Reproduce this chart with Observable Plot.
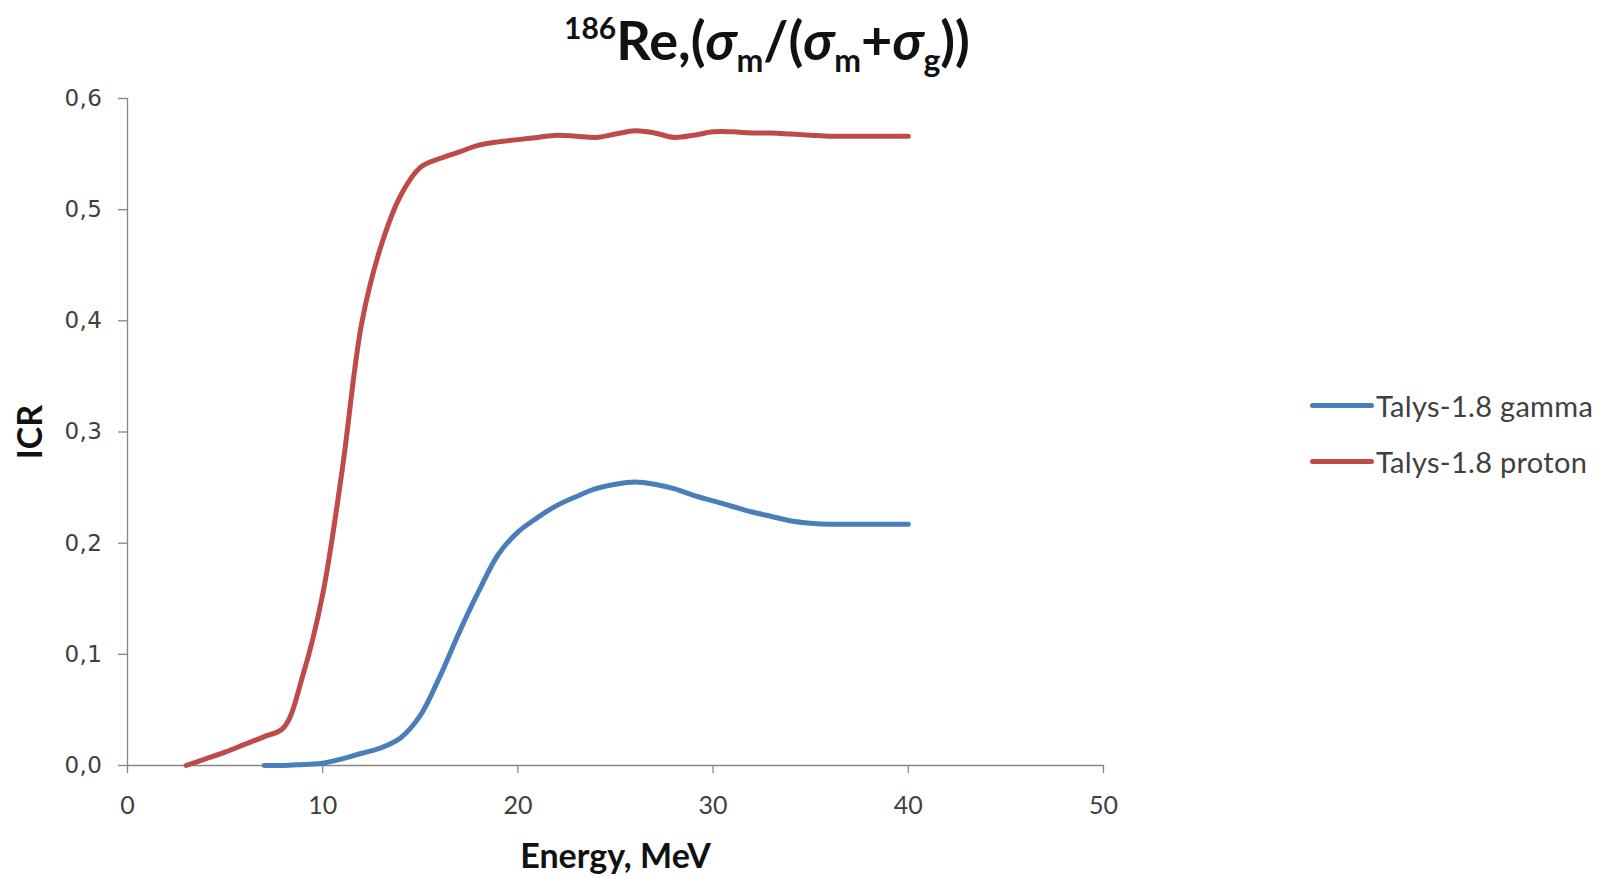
<!DOCTYPE html>
<html>
<head>
<meta charset="utf-8">
<script src="https://cdn.jsdelivr.net/npm/d3@7"></script>
<script src="https://cdn.jsdelivr.net/npm/@observablehq/plot@0.6"></script>
<style>
  html, body { margin: 0; padding: 0; background: #fff; }
  #wrap { position: relative; width: 1614px; height: 879px; overflow: hidden; }
  #title {
    position: absolute; left: 0; top: 0; width: 1534px; height: 78px;
    display: flex; align-items: center; justify-content: center;
    font-family: Lato, "Open Sans", sans-serif; font-weight: bold; font-size: 54px; color: #111;
  }
  #title sup { font-size: 30px; vertical-align: 21px; line-height: 0; }
  #title sub { font-size: 32px; vertical-align: -12px; line-height: 0; }
  #title i { font-style: italic; }
  #chart { position: absolute; left: 0; top: 80px; }
  #legend { position: absolute; left: 1310px; top: 388px; font-family: Lato, "Open Sans", sans-serif; font-size: 29px; letter-spacing: 0.3px; color: #404040; }
  .item { display: flex; align-items: center; height: 34px; margin-bottom: 22px; white-space: nowrap; }
  .swatch { width: 64px; height: 5px; border-radius: 3px; margin-right: 2px; }
  g[aria-label="y-axis label"] text, g[aria-label="x-axis label"] text {
    font-family: Lato, "Open Sans", sans-serif; font-weight: bold; font-size: 34px; fill: #111;
  }
  g[aria-label="y-axis tick label"] text { font-family: "DejaVu Sans", sans-serif; font-size: 23px; fill: #404040; letter-spacing: 0.5px; }
  g[aria-label="x-axis tick label"] text { font-family: Lato, "Open Sans", sans-serif; font-size: 25px; fill: #404040; }
  g[aria-label="y-axis tick"] path, g[aria-label="x-axis tick"] path { stroke: #868686; stroke-width: 1.3; }
</style>
</head>
<body>
<div id="wrap">
  <div id="title"><span><sup>186</sup>Re,(<i>σ</i><sub>m</sub>/(<i>σ</i><sub>m</sub>+<i>σ</i><sub>g</sub>))</span></div>
  <div id="chart"></div>
  <div id="legend"></div>
</div>
<script>
// Series names and colours
const seriesNames = ["Talys-1.8 gamma", "Talys-1.8 proton"];
const seriesColors = ["#4A7EBB", "#BE4B48"];

// Tick values
const xTicks = [0, 10, 20, 30, 40, 50];
const yTicks = [0, 0.1, 0.2, 0.3, 0.4, 0.5, 0.6];

// Talys-1.8 gamma
const gammaEnergy = [7, 8, 9, 10, 11, 12, 13, 14, 15, 16, 17, 18, 19, 20, 21, 22, 23, 24, 25, 26, 27, 28, 29, 30, 31, 32, 33, 34, 35, 36, 37, 38, 39, 40];
const gammaICR = [0.0, 0.0, 0.001, 0.002, 0.006, 0.011, 0.016, 0.025, 0.045, 0.080, 0.120, 0.157, 0.190, 0.210, 0.223, 0.234, 0.242, 0.249, 0.253, 0.255, 0.253, 0.249, 0.243, 0.238, 0.233, 0.228, 0.224, 0.220, 0.218, 0.217, 0.217, 0.217, 0.217, 0.217];

// Talys-1.8 proton
const protonEnergy = [3, 4, 5, 6, 7, 8, 9, 10, 11, 12, 13, 14, 15, 16, 17, 18, 19, 20, 21, 22, 23, 24, 25, 26, 27, 28, 29, 30, 31, 32, 33, 34, 35, 36, 37, 38, 39, 40];
const protonICR = [0.0, 0.006, 0.012, 0.019, 0.026, 0.034, 0.082, 0.154, 0.266, 0.398, 0.468, 0.513, 0.538, 0.546, 0.552, 0.558, 0.561, 0.563, 0.565, 0.567, 0.566, 0.565, 0.568, 0.571, 0.569, 0.565, 0.567, 0.570, 0.570, 0.569, 0.569, 0.568, 0.567, 0.566, 0.566, 0.566, 0.566, 0.566];

const gamma = gammaEnergy.map((e, i) => ({e, v: gammaICR[i]}));
const proton = protonEnergy.map((e, i) => ({e, v: protonICR[i]}));

const chart = Plot.plot({
  width: 1614,
  height: 799,
  marginLeft: 127,
  marginRight: 511,
  marginTop: 18,
  marginBottom: 114,
  style: {background: "#fff", overflow: "visible"},
  x: {domain: [0, 50]},
  y: {domain: [0, 0.6]},
  marks: [
    Plot.axisY({ticks: yTicks, tickSize: 9, tickPadding: 16,
      tickFormat: d => d.toFixed(1).replace(".", ","),
      label: "ICR", labelAnchor: "center", labelArrow: "none", labelOffset: 110}),
    Plot.axisX({ticks: xTicks, tickSize: 8, tickPadding: 23,
      label: "Energy, MeV", labelAnchor: "center", labelArrow: "none", labelOffset: 102}),
    Plot.ruleX([0], {stroke: "#868686", strokeWidth: 1.3}),
    Plot.ruleY([0], {stroke: "#868686", strokeWidth: 1.3}),
    Plot.line(proton, {x: "e", y: "v", stroke: seriesColors[1], strokeWidth: 5, curve: "catmull-rom", strokeLinecap: "round"}),
    Plot.line(gamma, {x: "e", y: "v", stroke: seriesColors[0], strokeWidth: 5, curve: "catmull-rom", strokeLinecap: "round"})
  ]
});
document.getElementById("chart").appendChild(chart);

const legend = document.getElementById("legend");
seriesNames.forEach((name, i) => {
  const item = document.createElement("div");
  item.className = "item";
  const sw = document.createElement("div");
  sw.className = "swatch";
  sw.style.background = seriesColors[i];
  const tx = document.createElement("span");
  tx.textContent = name;
  item.appendChild(sw);
  item.appendChild(tx);
  legend.appendChild(item);
});
</script>
</body>
</html>
